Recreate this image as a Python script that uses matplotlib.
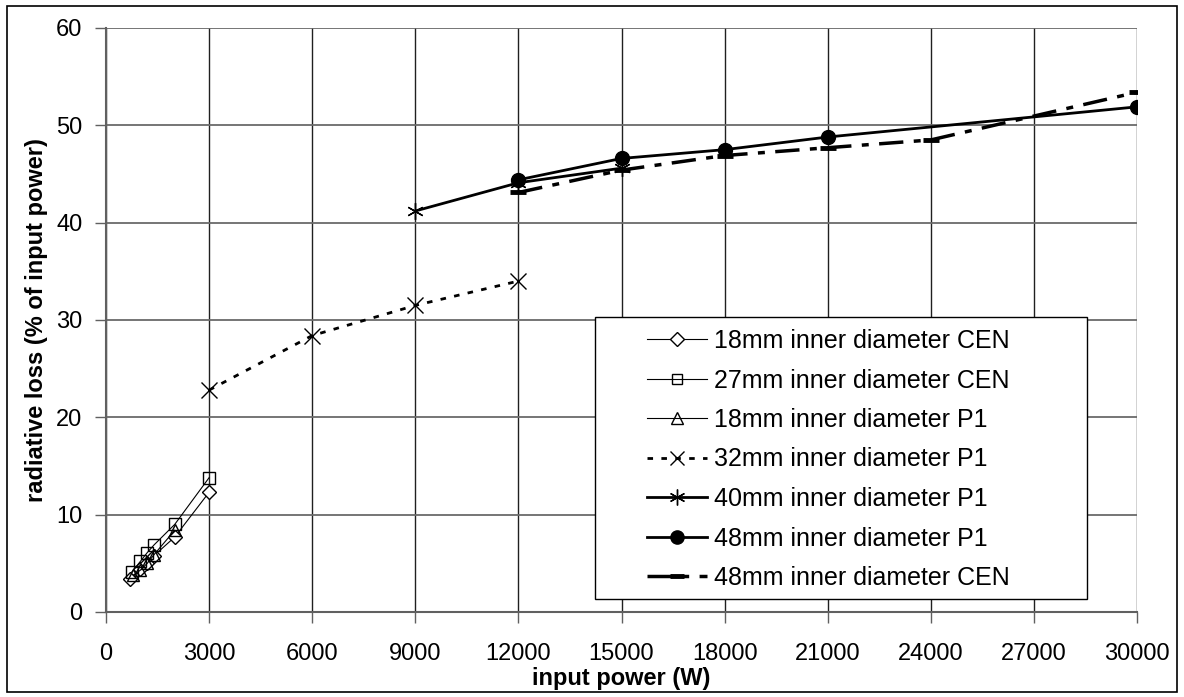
import numpy as np
import matplotlib
matplotlib.use("Agg")
import matplotlib.pyplot as plt
from matplotlib.patches import Rectangle

plt.rcParams['font.family'] = ['Liberation Sans', 'DejaVu Sans']

# data
x18cen = [700, 1000, 1200, 1400, 2000, 3000]
y18cen = [3.4, 4.4, 5.0, 5.8, 7.7, 12.3]
x27cen = [750, 1000, 1200, 1400, 2000, 3000]
y27cen = [4.1, 5.2, 6.1, 6.9, 9.0, 13.8]
x18p1 = [800, 1000, 1200, 1400, 2000]
y18p1 = [3.8, 4.3, 5.0, 5.9, 8.4]
x32p1 = [3000, 6000, 9000, 12000]
y32p1 = [22.8, 28.4, 31.5, 34.0]
x40p1 = [9000, 12000, 15000]
y40p1 = [41.2, 44.1, 45.6]
x48p1 = [12000, 15000, 18000, 21000, 30000]
y48p1 = [44.4, 46.6, 47.5, 48.8, 51.9]
x48cen = [12000, 15000, 18000, 21000, 24000, 30000]
y48cen = [43.1, 45.4, 46.9, 47.7, 48.5, 53.4]

labels = ["18mm inner diameter CEN", "27mm inner diameter CEN",
          "18mm inner diameter P1", "32mm inner diameter P1",
          "40mm inner diameter P1", "48mm inner diameter P1",
          "48mm inner diameter CEN"]

W, H = 1184, 697
fig = plt.figure(figsize=(W / 100, H / 100), dpi=100)
ax = fig.add_axes([106 / W, 1 - 612 / H, 1031 / W, 584 / H])

ax.plot(x18cen, y18cen, color='k', lw=0.8, marker='D', ms=7.5, mfc='white', mew=1.0, label=labels[0])
ax.plot(x27cen, y27cen, color='k', lw=0.8, marker='s', ms=8, mfc='none', mew=1.0, label=labels[1])
ax.plot(x18p1, y18p1, color='k', lw=0.8, marker='^', ms=9, mfc='none', mew=1.0, label=labels[2])
ax.plot(x32p1, y32p1, color='k', lw=2.0, ls=(0, (2, 3)), marker='x', ms=11, mew=1.0, label=labels[3])
ax.plot(x40p1, y40p1, color='k', lw=2.0, marker=(6, 2, 0), ms=12, mew=1.0, label=labels[4])
ax.plot(x48p1, y48p1, color='k', lw=2.0, marker='o', ms=10, label=labels[5])
ax.plot(x48cen, y48cen, color='k', lw=2.5, ls=(0, (7, 3, 2, 3)), marker='_', ms=11, mew=3.5, label=labels[6])

ax.set_xlim(0, 30000)
ax.set_ylim(0, 60)
ax.set_xticks(np.arange(0, 30001, 3000))
ax.set_yticks(np.arange(0, 61, 10))
ax.xaxis.grid(True, color='#202020', lw=1.0)
ax.yaxis.grid(True, color='#6a6a6a', lw=1.3)
ax.set_axisbelow(True)
for s in ['top', 'right']:
    ax.spines[s].set_visible(False)
for s in ['left', 'bottom']:
    ax.spines[s].set_color('#606060')
    ax.spines[s].set_linewidth(1.5)
ax.tick_params(direction='out', length=8, width=1, color='#606060', labelsize=17)
ax.tick_params(axis='x', pad=14)
ax.tick_params(axis='y', pad=9)

ax.set_xlabel("input power (W)", fontsize=17, fontweight='bold', labelpad=2)
ax.set_ylabel("radiative loss (% of input power)", fontsize=17, fontweight='bold', labelpad=6)

# legend frame drawn separately, entries placed inside it
ax.add_patch(Rectangle(((595 - 106) / 1031, (612 - 599) / 584), (1087 - 595) / 1031, (599 - 317) / 584,
                       transform=ax.transAxes, facecolor='white', edgecolor='k', lw=1.0,
                       zorder=5, clip_on=False))
leg = ax.legend(loc='upper left', bbox_to_anchor=((647 - 106) / 1031, (612 - 329) / 584),
                fontsize=18, frameon=False, borderpad=0, borderaxespad=0,
                handlelength=2.4, labelspacing=0.62, handletextpad=0.3,
                markerscale=0.95)
leg.set_zorder(6)

fig.patches.append(Rectangle((7 / W, 1 - 692 / H), 1170 / W, 686 / H, transform=fig.transFigure,
                             fill=False, edgecolor='k', lw=1.2))

fig.savefig("out.png", dpi=100)
